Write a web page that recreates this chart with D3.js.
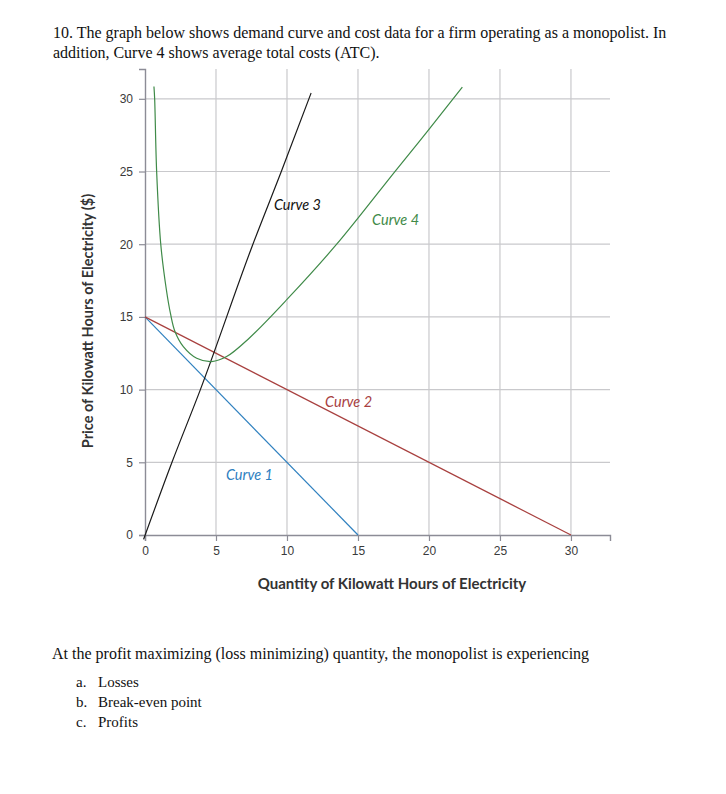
<!DOCTYPE html>
<html>
<head>
<meta charset="utf-8">
<title>Monopoly question</title>
<script src="https://d3js.org/d3.v7.min.js"></script>
<style>
  body { margin: 0; background: #fff; }
  .q { font-family: "Liberation Serif", serif; fill: #111; }
  .tick text { font-family: "Liberation Sans", Arial, sans-serif; font-size: 12px; fill: #3a3a3a; }
  .axis-title { font-family: "Lato", "Open Sans", sans-serif; font-weight: bold; fill: #333; }
  .curve-label { font-family: "Lato", "Open Sans", sans-serif; font-style: italic; font-size: 14.5px; }
</style>
</head>
<body>
<script>
// question text
var titleLines = ["10. The graph below shows demand curve and cost data for a firm operating as a monopolist. In",
                  "addition, Curve 4 shows average total costs (ATC)."];
var question = "At the profit maximizing (loss minimizing) quantity, the monopolist is experiencing";
var optLetters = ["a.", "b.", "c."];
var optTexts = ["Losses", "Break-even point", "Profits"];

// axis ticks
var xTicks = [0, 5, 10, 15, 20, 25, 30];
var yTicks = [0, 5, 10, 15, 20, 25, 30];

// curves (quantity, price)
var curve1Q = [0, 15], curve1P = [15, 0];
var curve2Q = [0, 30], curve2P = [15, 0];
var curve3Q = [-0.1, 1.9, 3.9, 7.6, 9.6, 11.7];
var curve3P = [-0.3, 5, 10, 20, 25, 30.4];
var curve4Q = [0.63, 0.68, 0.82, 1.11, 1.5, 1.8, 2.11, 2.7, 3.64, 4.7, 5.75, 7.3, 10, 13.5, 17.6, 20, 22.35];
var curve4P = [30.85, 30, 25, 20, 16.9, 15.2, 14.0, 12.96, 12.16, 11.93, 12.27, 13.5, 16.2, 20, 25, 27.9, 30.8];

var curveNames = ["Curve 1", "Curve 2", "Curve 3", "Curve 4"];
var labelQ = [5.7, 12.68, 9.08, 15.99];
var labelP = [3.79, 8.81, 22.37, 21.34];

var width = 726, height = 794;
var svg = d3.select("body").append("svg")
    .attr("width", width)
    .attr("height", height);

// title
svg.selectAll(".title")
    .data(titleLines)
    .enter().append("text")
    .attr("class", "q")
    .attr("x", 53)
    .attr("y", function(d, i) { return 38 + i * 19.5; })
    .attr("font-size", 16)
    .text(function(d) { return d; });

var x = d3.scaleLinear().domain([0, 32.75]).range([145, 610]);
var y = d3.scaleLinear().domain([0, 32.05]).range([535, 69]);

var g = svg.append("g");

// grid
g.selectAll(".vgrid")
    .data(xTicks.slice(1))
    .enter().append("line")
    .attr("x1", x).attr("x2", x)
    .attr("y1", y(0)).attr("y2", y(32.05))
    .attr("stroke", "#c9c9cc").attr("stroke-width", 1.2);
g.selectAll(".hgrid")
    .data(yTicks.slice(1))
    .enter().append("line")
    .attr("x1", x(0)).attr("x2", x(32.75))
    .attr("y1", y).attr("y2", y)
    .attr("stroke", "#c9c9cc").attr("stroke-width", 1.2);

// axes
var xAxis = g.append("g")
    .attr("transform", "translate(0," + y(0) + ")")
    .call(d3.axisBottom(x).tickValues(xTicks).tickSize(6).tickPadding(5));
var yAxis = g.append("g")
    .attr("transform", "translate(" + x(0) + ",0)")
    .call(d3.axisLeft(y).tickValues(yTicks).tickSize(6).tickPadding(6));
[xAxis, yAxis].forEach(function(a) {
    a.select(".domain").attr("stroke", "#8c8c96").attr("stroke-width", 1.4);
    a.selectAll(".tick line").attr("stroke", "#8c8c96").attr("stroke-width", 1.2);
});

// axis titles
svg.append("text")
    .attr("class", "axis-title")
    .attr("x", 392).attr("y", 589)
    .attr("text-anchor", "middle")
    .attr("font-size", 15)
    .text("Quantity of Kilowatt Hours of Electricity");
svg.append("text")
    .attr("class", "axis-title")
    .attr("transform", "translate(93,321) rotate(-90)")
    .attr("text-anchor", "middle")
    .attr("font-size", 14.5)
    .text("Price of Kilowatt Hours of Electricity ($)");

// curves
var line = d3.line()
    .x(function(d) { return x(d[0]); })
    .y(function(d) { return y(d[1]); });

function pairs(q, p) { return q.map(function(v, i) { return [v, p[i]]; }); }

var colors = ["#2f80bf", "#a8403f", "#1a1a1a", "#3f8a48"];
var curves = [pairs(curve1Q, curve1P), pairs(curve2Q, curve2P), pairs(curve3Q, curve3P), pairs(curve4Q, curve4P)];

g.selectAll(".curve")
    .data(curves)
    .enter().append("path")
    .attr("fill", "none")
    .attr("stroke", function(d, i) { return colors[i]; })
    .attr("stroke-width", 1.2)
    .attr("d", function(d, i) {
        if (i == 3) return line.curve(d3.curveCatmullRom.alpha(0.5))(d);
        if (i == 2) return line.curve(d3.curveMonotoneX)(d);
        return line.curve(d3.curveLinear)(d);
    });

g.selectAll(".curve-label")
    .data(curveNames)
    .enter().append("text")
    .attr("class", "curve-label")
    .attr("x", function(d, i) { return x(labelQ[i]); })
    .attr("y", function(d, i) { return y(labelP[i]); })
    .attr("fill", function(d, i) { return i == 2 ? "#111" : colors[i]; })
    .text(function(d) { return d; });

// question
svg.append("text")
    .attr("class", "q")
    .attr("x", 52).attr("y", 659)
    .attr("font-size", 16)
    .text(question);
svg.selectAll(".opt-l")
    .data(optLetters)
    .enter().append("text")
    .attr("class", "q")
    .attr("x", 76)
    .attr("y", function(d, i) { return 687 + i * 20; })
    .attr("font-size", 15)
    .text(function(d) { return d; });
svg.selectAll(".opt-t")
    .data(optTexts)
    .enter().append("text")
    .attr("class", "q")
    .attr("x", 98)
    .attr("y", function(d, i) { return 687 + i * 20; })
    .attr("font-size", 15)
    .text(function(d) { return d; });
</script>
</body>
</html>
